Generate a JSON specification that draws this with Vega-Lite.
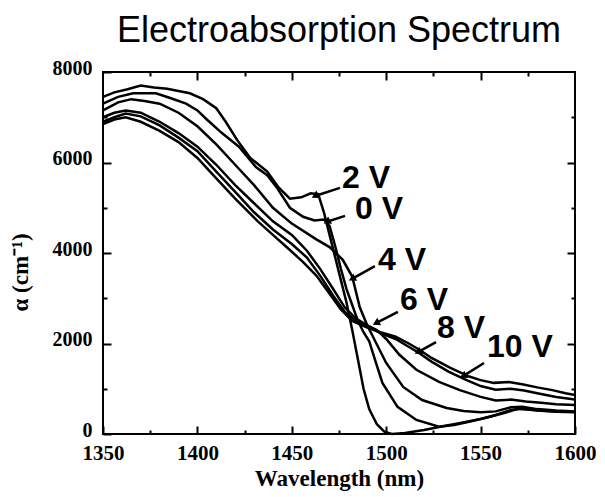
{
  "$schema": "https://vega.github.io/schema/vega-lite/v6.json",
  "autosize": "none",
  "width": 472,
  "height": 362,
  "padding": {"left": 103, "top": 72, "right": 30, "bottom": 63},
  "background": "white",
  "config": {"view": {"stroke": "black", "strokeWidth": 2}},
  "title": {"text": "Electroabsorption Spectrum", "font": "Liberation Sans", "fontSize": 36, "fontWeight": "normal", "color": "black", "anchor": "middle", "frame": "group", "baseline": "alphabetic", "offset": -20},
  "datasets": {
    "curves": [
      {"v": "2 V", "wl": 1350, "a": 7450}, {"v": "2 V", "wl": 1356, "a": 7550}, {"v": "2 V", "wl": 1363, "a": 7620}, {"v": "2 V", "wl": 1370, "a": 7700}, {"v": "2 V", "wl": 1377, "a": 7660}, {"v": "2 V", "wl": 1384, "a": 7630}, {"v": "2 V", "wl": 1390, "a": 7580}, {"v": "2 V", "wl": 1396, "a": 7530}, {"v": "2 V", "wl": 1403, "a": 7400}, {"v": "2 V", "wl": 1410, "a": 7200}, {"v": "2 V", "wl": 1415, "a": 6900}, {"v": "2 V", "wl": 1421, "a": 6500}, {"v": "2 V", "wl": 1428, "a": 6100}, {"v": "2 V", "wl": 1437, "a": 5800}, {"v": "2 V", "wl": 1443, "a": 5450}, {"v": "2 V", "wl": 1449, "a": 5200}, {"v": "2 V", "wl": 1455, "a": 5230}, {"v": "2 V", "wl": 1460, "a": 5320}, {"v": "2 V", "wl": 1464, "a": 5300}, {"v": "2 V", "wl": 1467, "a": 4900}, {"v": "2 V", "wl": 1470, "a": 4400}, {"v": "2 V", "wl": 1473, "a": 3900}, {"v": "2 V", "wl": 1476, "a": 3400}, {"v": "2 V", "wl": 1479, "a": 2900}, {"v": "2 V", "wl": 1482, "a": 2300}, {"v": "2 V", "wl": 1485, "a": 1650}, {"v": "2 V", "wl": 1488, "a": 1000}, {"v": "2 V", "wl": 1491, "a": 550}, {"v": "2 V", "wl": 1495, "a": 220}, {"v": "2 V", "wl": 1499, "a": 50}, {"v": "2 V", "wl": 1503, "a": 0}, {"v": "2 V", "wl": 1510, "a": 20}, {"v": "2 V", "wl": 1520, "a": 90}, {"v": "2 V", "wl": 1530, "a": 170}, {"v": "2 V", "wl": 1540, "a": 250}, {"v": "2 V", "wl": 1550, "a": 330}, {"v": "2 V", "wl": 1558, "a": 420}, {"v": "2 V", "wl": 1566, "a": 530}, {"v": "2 V", "wl": 1572, "a": 560}, {"v": "2 V", "wl": 1580, "a": 520}, {"v": "2 V", "wl": 1590, "a": 490}, {"v": "2 V", "wl": 1600, "a": 480},

      {"v": "0 V", "wl": 1350, "a": 7300}, {"v": "0 V", "wl": 1358, "a": 7450}, {"v": "0 V", "wl": 1366, "a": 7530}, {"v": "0 V", "wl": 1378, "a": 7530}, {"v": "0 V", "wl": 1386, "a": 7420}, {"v": "0 V", "wl": 1394, "a": 7300}, {"v": "0 V", "wl": 1400, "a": 7150}, {"v": "0 V", "wl": 1405, "a": 6950}, {"v": "0 V", "wl": 1413, "a": 6650}, {"v": "0 V", "wl": 1422, "a": 6350}, {"v": "0 V", "wl": 1431, "a": 5900}, {"v": "0 V", "wl": 1437, "a": 5720}, {"v": "0 V", "wl": 1442, "a": 5450}, {"v": "0 V", "wl": 1449, "a": 5000}, {"v": "0 V", "wl": 1456, "a": 4800}, {"v": "0 V", "wl": 1462, "a": 4720}, {"v": "0 V", "wl": 1467, "a": 4740}, {"v": "0 V", "wl": 1470, "a": 4600}, {"v": "0 V", "wl": 1473, "a": 4150}, {"v": "0 V", "wl": 1476, "a": 3650}, {"v": "0 V", "wl": 1479, "a": 3200}, {"v": "0 V", "wl": 1482, "a": 2850}, {"v": "0 V", "wl": 1485, "a": 2500}, {"v": "0 V", "wl": 1488, "a": 2250}, {"v": "0 V", "wl": 1491, "a": 2050}, {"v": "0 V", "wl": 1494, "a": 1650}, {"v": "0 V", "wl": 1498, "a": 1130}, {"v": "0 V", "wl": 1506, "a": 600}, {"v": "0 V", "wl": 1516, "a": 310}, {"v": "0 V", "wl": 1528, "a": 160}, {"v": "0 V", "wl": 1536, "a": 200}, {"v": "0 V", "wl": 1545, "a": 280}, {"v": "0 V", "wl": 1555, "a": 380}, {"v": "0 V", "wl": 1563, "a": 470}, {"v": "0 V", "wl": 1570, "a": 560}, {"v": "0 V", "wl": 1578, "a": 530}, {"v": "0 V", "wl": 1588, "a": 500}, {"v": "0 V", "wl": 1600, "a": 490},

      {"v": "4 V", "wl": 1350, "a": 7150}, {"v": "4 V", "wl": 1358, "a": 7330}, {"v": "4 V", "wl": 1365, "a": 7400}, {"v": "4 V", "wl": 1372, "a": 7360}, {"v": "4 V", "wl": 1380, "a": 7300}, {"v": "4 V", "wl": 1390, "a": 7100}, {"v": "4 V", "wl": 1400, "a": 6800}, {"v": "4 V", "wl": 1410, "a": 6400}, {"v": "4 V", "wl": 1420, "a": 5950}, {"v": "4 V", "wl": 1430, "a": 5500}, {"v": "4 V", "wl": 1440, "a": 5000}, {"v": "4 V", "wl": 1450, "a": 4650}, {"v": "4 V", "wl": 1463, "a": 4300}, {"v": "4 V", "wl": 1470, "a": 4130}, {"v": "4 V", "wl": 1477, "a": 3850}, {"v": "4 V", "wl": 1482, "a": 3480}, {"v": "4 V", "wl": 1486, "a": 2800}, {"v": "4 V", "wl": 1490, "a": 2400}, {"v": "4 V", "wl": 1493, "a": 2150}, {"v": "4 V", "wl": 1500, "a": 1570}, {"v": "4 V", "wl": 1509, "a": 1040}, {"v": "4 V", "wl": 1519, "a": 750}, {"v": "4 V", "wl": 1532, "a": 575}, {"v": "4 V", "wl": 1541, "a": 510}, {"v": "4 V", "wl": 1550, "a": 480}, {"v": "4 V", "wl": 1558, "a": 500}, {"v": "4 V", "wl": 1566, "a": 590}, {"v": "4 V", "wl": 1572, "a": 600}, {"v": "4 V", "wl": 1580, "a": 550}, {"v": "4 V", "wl": 1590, "a": 520}, {"v": "4 V", "wl": 1600, "a": 500},

      {"v": "6 V", "wl": 1350, "a": 7000}, {"v": "6 V", "wl": 1356, "a": 7100}, {"v": "6 V", "wl": 1362, "a": 7150}, {"v": "6 V", "wl": 1370, "a": 7100}, {"v": "6 V", "wl": 1380, "a": 6900}, {"v": "6 V", "wl": 1390, "a": 6650}, {"v": "6 V", "wl": 1400, "a": 6350}, {"v": "6 V", "wl": 1410, "a": 5950}, {"v": "6 V", "wl": 1420, "a": 5500}, {"v": "6 V", "wl": 1430, "a": 5100}, {"v": "6 V", "wl": 1440, "a": 4700}, {"v": "6 V", "wl": 1450, "a": 4400}, {"v": "6 V", "wl": 1458, "a": 4050}, {"v": "6 V", "wl": 1465, "a": 3650}, {"v": "6 V", "wl": 1472, "a": 3200}, {"v": "6 V", "wl": 1478, "a": 2800}, {"v": "6 V", "wl": 1484, "a": 2550}, {"v": "6 V", "wl": 1490, "a": 2400}, {"v": "6 V", "wl": 1495, "a": 2300}, {"v": "6 V", "wl": 1500, "a": 2100}, {"v": "6 V", "wl": 1507, "a": 1750}, {"v": "6 V", "wl": 1516, "a": 1420}, {"v": "6 V", "wl": 1528, "a": 1150}, {"v": "6 V", "wl": 1539, "a": 970}, {"v": "6 V", "wl": 1550, "a": 820}, {"v": "6 V", "wl": 1558, "a": 740}, {"v": "6 V", "wl": 1566, "a": 760}, {"v": "6 V", "wl": 1574, "a": 720}, {"v": "6 V", "wl": 1582, "a": 690}, {"v": "6 V", "wl": 1590, "a": 660}, {"v": "6 V", "wl": 1600, "a": 640},

      {"v": "8 V", "wl": 1350, "a": 6900}, {"v": "8 V", "wl": 1356, "a": 7000}, {"v": "8 V", "wl": 1362, "a": 7080}, {"v": "8 V", "wl": 1370, "a": 7020}, {"v": "8 V", "wl": 1380, "a": 6820}, {"v": "8 V", "wl": 1390, "a": 6550}, {"v": "8 V", "wl": 1400, "a": 6250}, {"v": "8 V", "wl": 1410, "a": 5800}, {"v": "8 V", "wl": 1420, "a": 5350}, {"v": "8 V", "wl": 1430, "a": 4900}, {"v": "8 V", "wl": 1440, "a": 4520}, {"v": "8 V", "wl": 1450, "a": 4200}, {"v": "8 V", "wl": 1458, "a": 3900}, {"v": "8 V", "wl": 1465, "a": 3500}, {"v": "8 V", "wl": 1472, "a": 3050}, {"v": "8 V", "wl": 1478, "a": 2700}, {"v": "8 V", "wl": 1484, "a": 2500}, {"v": "8 V", "wl": 1490, "a": 2380}, {"v": "8 V", "wl": 1497, "a": 2230}, {"v": "8 V", "wl": 1505, "a": 2100}, {"v": "8 V", "wl": 1511, "a": 1950}, {"v": "8 V", "wl": 1517, "a": 1800}, {"v": "8 V", "wl": 1524, "a": 1600}, {"v": "8 V", "wl": 1533, "a": 1380}, {"v": "8 V", "wl": 1542, "a": 1200}, {"v": "8 V", "wl": 1550, "a": 1060}, {"v": "8 V", "wl": 1558, "a": 980}, {"v": "8 V", "wl": 1566, "a": 1000}, {"v": "8 V", "wl": 1573, "a": 960}, {"v": "8 V", "wl": 1580, "a": 900}, {"v": "8 V", "wl": 1590, "a": 820}, {"v": "8 V", "wl": 1600, "a": 760},

      {"v": "10 V", "wl": 1350, "a": 6850}, {"v": "10 V", "wl": 1356, "a": 6950}, {"v": "10 V", "wl": 1362, "a": 7000}, {"v": "10 V", "wl": 1370, "a": 6900}, {"v": "10 V", "wl": 1380, "a": 6700}, {"v": "10 V", "wl": 1390, "a": 6450}, {"v": "10 V", "wl": 1400, "a": 6100}, {"v": "10 V", "wl": 1410, "a": 5650}, {"v": "10 V", "wl": 1420, "a": 5200}, {"v": "10 V", "wl": 1432, "a": 4700}, {"v": "10 V", "wl": 1440, "a": 4400}, {"v": "10 V", "wl": 1449, "a": 4066}, {"v": "10 V", "wl": 1456, "a": 3800}, {"v": "10 V", "wl": 1463, "a": 3500}, {"v": "10 V", "wl": 1470, "a": 3100}, {"v": "10 V", "wl": 1476, "a": 2750}, {"v": "10 V", "wl": 1482, "a": 2500}, {"v": "10 V", "wl": 1490, "a": 2350}, {"v": "10 V", "wl": 1497, "a": 2250}, {"v": "10 V", "wl": 1505, "a": 2150}, {"v": "10 V", "wl": 1512, "a": 2000}, {"v": "10 V", "wl": 1518, "a": 1850}, {"v": "10 V", "wl": 1524, "a": 1680}, {"v": "10 V", "wl": 1534, "a": 1460}, {"v": "10 V", "wl": 1544, "a": 1270}, {"v": "10 V", "wl": 1550, "a": 1190}, {"v": "10 V", "wl": 1557, "a": 1130}, {"v": "10 V", "wl": 1565, "a": 1150}, {"v": "10 V", "wl": 1572, "a": 1100}, {"v": "10 V", "wl": 1580, "a": 1030}, {"v": "10 V", "wl": 1588, "a": 970}, {"v": "10 V", "wl": 1595, "a": 900}, {"v": "10 V", "wl": 1600, "a": 860}
    ],
    "arrows": [
      {"v": "2 V", "wl": 1475.5, "a": 5440, "wl2": 1462.3, "a2": 5260},
      {"v": "0 V", "wl": 1478.2, "a": 4820, "wl2": 1468.6, "a2": 4690},
      {"v": "4 V", "wl": 1494, "a": 3710, "wl2": 1481.9, "a2": 3430},
      {"v": "6 V", "wl": 1506.2, "a": 2700, "wl2": 1494.6, "a2": 2450},
      {"v": "8 V", "wl": 1526.4, "a": 2030, "wl2": 1516.8, "a2": 1810},
      {"v": "10 V", "wl": 1551.8, "a": 1570, "wl2": 1540.7, "a2": 1280}
    ],
    "labels": [
      {"text": "2 V", "wl": 1476.6, "a": 5660},
      {"text": "0 V", "wl": 1483.5, "a": 4970},
      {"text": "4 V", "wl": 1495.7, "a": 3845},
      {"text": "6 V", "wl": 1507.3, "a": 2960},
      {"text": "8 V", "wl": 1526.9, "a": 2340},
      {"text": "10 V", "wl": 1553.4, "a": 1920}
    ]
  },
  "layer": [
    {
      "data": {"name": "curves"},
      "mark": {"type": "line", "color": "black", "strokeWidth": 2.5, "interpolate": "linear"},
      "encoding": {
        "x": {"field": "wl", "type": "quantitative", "scale": {"domain": [1350, 1600], "nice": false, "zero": false},
          "axis": {"orient": "bottom", "values": [1350, 1400, 1450, 1500, 1550, 1600], "format": "d", "tickSize": -8, "tickWidth": 2, "tickColor": "black", "labelPadding": 16, "labelFont": "Liberation Serif", "labelFontWeight": "bold", "labelFontSize": 21, "labelColor": "black", "labelFlush": false, "labelOverlap": false, "domain": false, "grid": false, "title": "Wavelength (nm)", "titleFont": "Liberation Serif", "titleFontWeight": "bold", "titleFontSize": 23, "titleColor": "black", "titlePadding": 4}},
        "y": {"field": "a", "type": "quantitative", "scale": {"domain": [0, 8000], "nice": false, "zero": false},
          "axis": {"orient": "left", "values": [0, 2000, 4000, 6000, 8000], "format": "d", "tickSize": -8, "tickWidth": 2, "tickColor": "black", "labelPadding": 19, "labelOffset": -4, "labelFont": "Liberation Serif", "labelFontWeight": "bold", "labelFontSize": 20, "labelColor": "black", "labelFlush": false, "labelOverlap": false, "domain": false, "grid": false, "title": "α (cm⁻¹)", "titleFont": "Liberation Serif", "titleFontWeight": "bold", "titleFontSize": 23, "titleColor": "black", "titlePadding": 20, "titleY": 200}},
        "detail": {"field": "v", "type": "nominal"}
      }
    },
    {
      "data": {"name": "arrows"},
      "mark": {"type": "rule", "color": "black", "strokeWidth": 2.5},
      "encoding": {
        "x": {"field": "wl", "type": "quantitative", "scale": {"domain": [1350, 1600], "nice": false, "zero": false},
          "axis": {"orient": "bottom", "values": [1375, 1425, 1475, 1525, 1575], "tickSize": -4, "tickWidth": 2, "tickColor": "black", "labels": false, "domain": false, "grid": false, "title": null}},
        "y": {"field": "a", "type": "quantitative", "scale": {"domain": [0, 8000], "nice": false, "zero": false},
          "axis": {"orient": "left", "values": [1000, 3000, 5000, 7000], "tickSize": -4, "tickWidth": 2, "tickColor": "black", "labels": false, "domain": false, "grid": false, "title": null}},
        "x2": {"field": "wl2"},
        "y2": {"field": "a2"}
      }
    },
    {
      "data": {"name": "arrows"},
      "mark": {"type": "point", "shape": "triangle-left", "filled": true, "color": "black", "size": 70, "angle": -28, "opacity": 1},
      "encoding": {
        "x": {"field": "wl2", "type": "quantitative", "scale": {"domain": [1350, 1600], "nice": false, "zero": false},
          "axis": {"orient": "top", "values": [1400, 1450, 1500, 1550], "tickSize": -8, "tickWidth": 2, "tickColor": "black", "labels": false, "domain": false, "grid": false, "title": null}},
        "y": {"field": "a2", "type": "quantitative", "scale": {"domain": [0, 8000], "nice": false, "zero": false},
          "axis": {"orient": "right", "values": [2000, 4000, 6000], "tickSize": -8, "tickWidth": 2, "tickColor": "black", "labels": false, "domain": false, "grid": false, "title": null}}
      }
    },
    {
      "data": {"name": "labels"},
      "mark": {"type": "text", "align": "left", "baseline": "middle", "font": "Liberation Sans", "fontWeight": "bold", "fontSize": 32, "color": "black"},
      "encoding": {
        "x": {"field": "wl", "type": "quantitative", "scale": {"domain": [1350, 1600], "nice": false, "zero": false},
          "axis": {"orient": "top", "values": [1375, 1425, 1475, 1525, 1575], "tickSize": -4, "tickWidth": 2, "tickColor": "black", "labels": false, "domain": false, "grid": false, "title": null}},
        "y": {"field": "a", "type": "quantitative", "scale": {"domain": [0, 8000], "nice": false, "zero": false},
          "axis": {"orient": "right", "values": [1000, 3000, 5000, 7000], "tickSize": -4, "tickWidth": 2, "tickColor": "black", "labels": false, "domain": false, "grid": false, "title": null}},
        "text": {"field": "text", "type": "nominal"}
      }
    }
  ],
  "resolve": {"axis": {"x": "independent", "y": "independent"}}
}
